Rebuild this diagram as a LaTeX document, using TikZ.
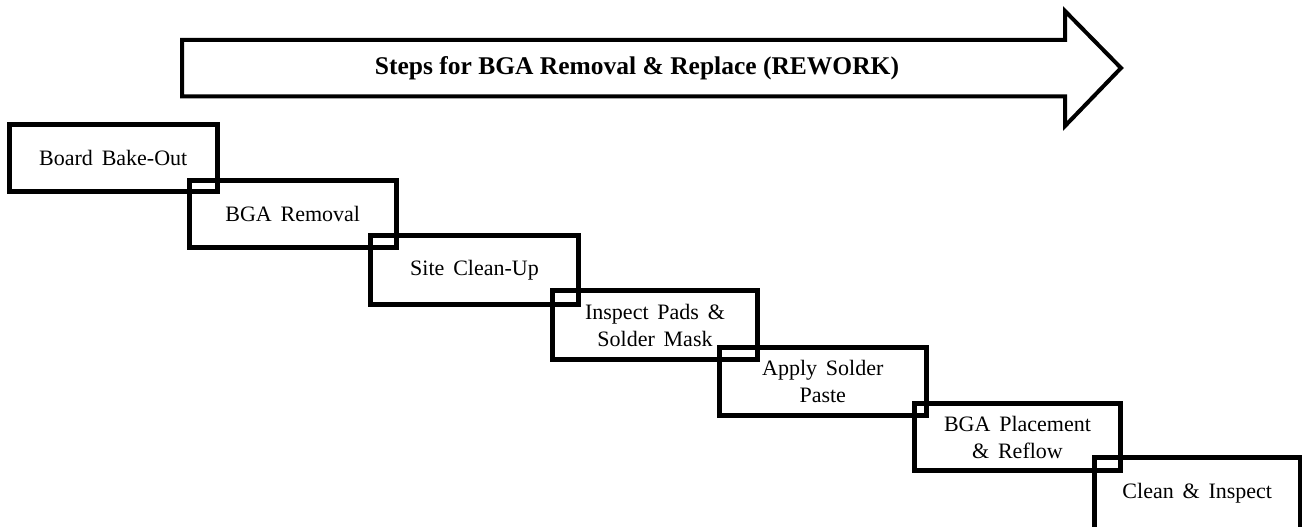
\documentclass[tikz,border=0pt]{standalone}
\usepackage{fontspec}
\setmainfont{Liberation Serif}
\newfontfamily\stepfont[WordSpace=1.6]{Liberation Serif}

\begin{document}
\begin{tikzpicture}[
  x=1pt,
  y=-1pt,
  line join=miter,
  banner/.style={draw=black,line width=4pt},
  stepbox/.style={draw=black,line width=5pt,rectangle,inner sep=0pt,align=center,
    font=\stepfont\fontsize{22}{27}\selectfont},
  bannertext/.style={font=\fontsize{25.5}{30}\selectfont\bfseries}
]
  % Keep the frame of the original screenshot.
  \useasboundingbox (0,0) rectangle (1302,527);

  % Outline of the large arrow heading the process.
  \coordinate (tailTop) at (182,40);
  \coordinate (neckTop) at (1065,40);
  \coordinate (barbTop) at (1065,11);
  \coordinate (tip) at (1121,68);
  \coordinate (barbBottom) at (1065,126);
  \coordinate (neckBottom) at (1065,96.5);
  \coordinate (tailBottom) at (182,96.5);
  \draw[banner] (tailTop) -- (neckTop) -- (barbTop) -- (tip) -- (barbBottom)
    -- (neckBottom) -- (tailBottom) -- cycle;
  \node[bannertext] (title) at (637,68) {Steps for BGA Removal \& Replace (REWORK)};

  % Staircase of rework steps, each box overlapping the next one.
  \node[stepbox,minimum width=207.5,minimum height=67] (bakeout) at (113.25,158) {Board Bake-Out};
  \node[stepbox,minimum width=206.5,minimum height=67] (removal) at (292.75,214) {BGA Removal};
  \node[stepbox,minimum width=208,minimum height=69] (cleanup) at (474.5,270) {Site Clean-Up};
  \node[stepbox,minimum width=205,minimum height=69] (inspectpads) at (655,325) {Inspect Pads \&\\Solder Mask};
  \node[stepbox,minimum width=206.5,minimum height=68] (paste) at (822.75,381.5) {Apply Solder\\Paste};
  \node[stepbox,minimum width=206,minimum height=67] (placement) at (1017.5,437) {BGA Placement\\\& Reflow};
  \node[stepbox,minimum width=205.5,minimum height=72] (finalinspect) at (1197.25,493.5) {Clean \& Inspect};
\end{tikzpicture}
\end{document}
